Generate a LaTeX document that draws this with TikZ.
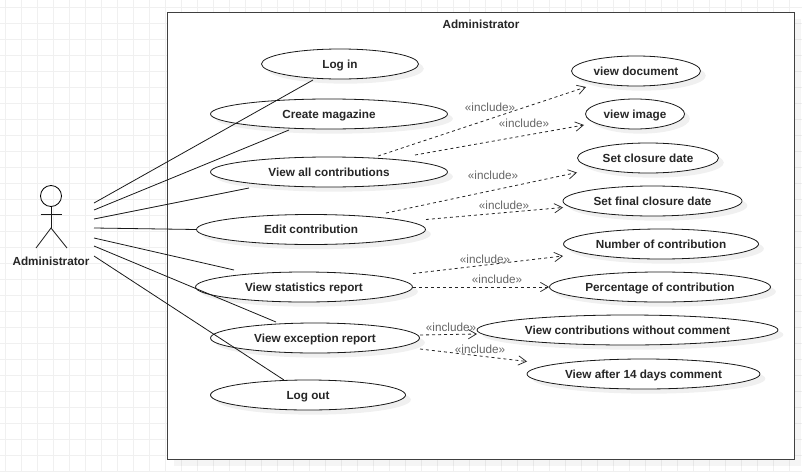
\documentclass[tikz,border=0pt]{standalone}
\usepackage{fontspec}
\setmainfont{Liberation Sans}
\usetikzlibrary{shapes.geometric,shadows,arrows.meta}
\tikzset{
	gridline/.style={draw=black!6,line width=.75pt},
	usecase/.style={ellipse,draw=black!90,fill=white,inner sep=0pt,line width=.6pt,minimum height=22.5pt,minimum width=#1*.75pt-.75pt,font=\fontsize{8.8}{11}\selectfont\bfseries,text=black!85,text height=6.5pt,text depth=0pt,
		drop shadow={shadow xshift=4pt,shadow yshift=-3.5pt,fill=black,opacity=.06}},
	sysbox/.style={draw=black!75,fill=white,line width=.7pt,
		drop shadow={shadow xshift=5pt,shadow yshift=-5pt,fill=black,opacity=.04}},
	assoc/.style={line width=.6pt,draw=black!90},
	incl/.style={line width=.6pt,draw=black!85,dash pattern=on 2.25pt off 2.25pt,-{Straight Barb[length=6pt,width=7pt,line width=.55pt]}},
	incllabel/.style={text=black!60,font=\fontsize{8.8}{11}\selectfont,inner sep=0pt},
	boldlabel/.style={text=black!85,font=\fontsize{8.8}{11}\selectfont\bfseries,inner sep=0pt}
}
\begin{document}
\begin{tikzpicture}[x=.75pt,y=-.75pt]
	\useasboundingbox (0,0) rectangle (802,471);
	\draw[gridline,y=.75pt,step=16,shift={(5,-7)}] (-5,7) grid (797,-464);

	\node[sysbox,minimum width=470.25pt,minimum height=335.25pt,inner sep=0pt] (system) at(480.7,235.75){};
	\node[boldlabel] (systitle) at(481,24.5){Administrator};

	\node[usecase=158] (login) at(340,64){Log in};
	\node[usecase=238] (createmag) at(329,114){Create magazine};
	\node[usecase=238] (viewall) at(329,172){View all contributions};
	\node[usecase=230] (edit) at(311,229.5){Edit contribution};
	\node[usecase=218] (stats) at(304,287){View statistics report};
	\node[usecase=210] (exception) at(315,338){View exception report};
	\node[usecase=196] (logout) at(308,395){Log out};

	\node[usecase=130] (viewdoc) at(636,71){view document};
	\node[usecase=100] (viewimg) at(635,114){view image};
	\node[usecase=142] (closure) at(648,158){Set closure date};
	\node[usecase=180] (finalclosure) at(652.5,201){Set final closure date};
	\node[usecase=196] (number) at(661,244){Number of contribution};
	\node[usecase=222] (percent) at(660,287){Percentage of contribution};
	\node[usecase=302] (nocomment) at(627.5,330){View contributions without comment};
	\node[usecase=234] (after14) at(643.5,374){View after 14 days comment};

	\node[minimum size=21*.75pt,circle,draw,line width=.6pt,inner sep=0pt] (head) at(51,196){};
	\coordinate (hip) at(51,228);
	\coordinate (armL) at(40.5,214.5);
	\coordinate (armR) at(62,214.5);
	\coordinate (footL) at(36,248);
	\coordinate (footR) at(67,248);
	\draw[assoc] (head) to (hip);
	\draw[assoc] (armL) to (armR);
	\draw[assoc] (footL) to (hip) to (footR);
	\node[boldlabel] (actor) at(51,261){Administrator};

	\coordinate (a1) at(94,203);
	\coordinate (a2) at(94,210);
	\coordinate (a3) at(94,219);
	\coordinate (a4) at(94,228);
	\coordinate (a5) at(94,238);
	\coordinate (a6) at(94,246);
	\coordinate (a7) at(94,256);
	\coordinate (e1) at(313,80);
	\coordinate (e2) at(289,130);
	\coordinate (e3) at(249,188);
	\coordinate (e5) at(234,270);
	\coordinate (e6) at(276,322);
	\coordinate (e7) at(284,380);
	\draw[assoc] (a1) to (e1);
	\draw[assoc] (a2) to (e2);
	\draw[assoc] (a3) to (e3);
	\draw[assoc] (a4) to (edit.west);
	\draw[assoc] (a5) to (e5);
	\draw[assoc] (a6) to (e6);
	\draw[assoc] (a7) to (e7);

	\coordinate (i1s) at(378,156);
	\coordinate (i1e) at(586,87);
	\coordinate (i2s) at(415,155);
	\coordinate (i2e) at(584,125);
	\coordinate (i3s) at(386,213);
	\coordinate (i3e) at(577,172.5);
	\coordinate (i4s) at(426,219.5);
	\coordinate (i4e) at(563,207.5);
	\coordinate (i5s) at(413,273.5);
	\coordinate (i5e) at(563,256);
	\coordinate (i7e) at(477,334);
	\coordinate (i7s) at(420,335);
	\coordinate (i8s) at(420,349);
	\coordinate (i8e) at(527,361.5);
	\draw[incl] (i1s) to (i1e);
	\draw[incl] (i2s) to (i2e);
	\draw[incl] (i3s) to (i3e);
	\draw[incl] (i4s) to (i4e);
	\draw[incl] (i5s) to (i5e);
	\draw[incl] (stats.east) to (percent.west);
	\draw[incl] (i7s) to (i7e);
	\draw[incl] (i8s) to (i8e);

	\node[incllabel] (l1) at(490,107){«include»};
	\node[incllabel] (l2) at(524,123){«include»};
	\node[incllabel] (l3) at(493,175){«include»};
	\node[incllabel] (l4) at(504,205){«include»};
	\node[incllabel] (l5) at(485,259){«include»};
	\node[incllabel] (l6) at(497,279){«include»};
	\node[incllabel] (l7) at(451,327){«include»};
	\node[incllabel] (l8) at(480,349){«include»};
\end{tikzpicture}
\end{document}
